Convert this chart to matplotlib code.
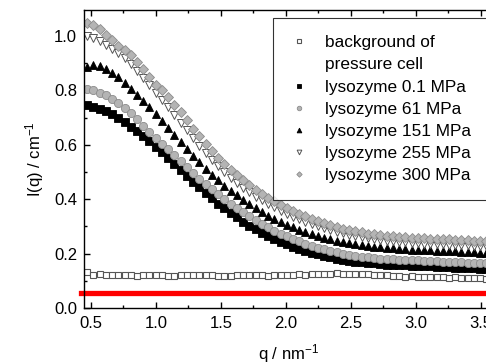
import matplotlib
matplotlib.use("Agg")
import matplotlib.pyplot as plt
from matplotlib.lines import Line2D
from matplotlib.ticker import MultipleLocator

plt.rcParams['font.family'] = ['Liberation Sans', 'DejaVu Sans']
plt.rcParams['mathtext.fontset'] = 'custom'
plt.rcParams['mathtext.rm'] = 'Liberation Sans'
plt.rcParams['mathtext.it'] = 'Liberation Sans:italic'

# scattering vector q / nm^-1
q = [0.470, 0.518, 0.566, 0.614, 0.662, 0.710, 0.758, 0.806, 0.854, 0.902,
     0.950, 0.998, 1.046, 1.094, 1.142, 1.190, 1.238, 1.286, 1.334, 1.382,
     1.430, 1.478, 1.526, 1.574, 1.622, 1.670, 1.718, 1.766, 1.814, 1.862,
     1.910, 1.958, 2.006, 2.054, 2.102, 2.150, 2.198, 2.246, 2.294, 2.342,
     2.390, 2.438, 2.486, 2.534, 2.582, 2.630, 2.678, 2.726, 2.774, 2.822,
     2.870, 2.918, 2.966, 3.014, 3.062, 3.110, 3.158, 3.206, 3.254, 3.302,
     3.350, 3.398, 3.446, 3.494, 3.542]

background = [0.132, 0.122, 0.124, 0.121, 0.120, 0.121, 0.122, 0.120, 0.118, 0.120,
              0.121, 0.122, 0.120, 0.117, 0.119, 0.120, 0.121, 0.122, 0.121, 0.120,
              0.121, 0.119, 0.117, 0.119, 0.121, 0.120, 0.122, 0.121, 0.120, 0.118,
              0.120, 0.121, 0.122, 0.123, 0.124, 0.123, 0.125, 0.126, 0.124, 0.125,
              0.127, 0.126, 0.124, 0.125, 0.126, 0.124, 0.123, 0.122, 0.121, 0.119,
              0.117, 0.115, 0.116, 0.114, 0.115, 0.113, 0.114, 0.113, 0.112, 0.113,
              0.112, 0.111, 0.112, 0.110, 0.106]

lys_0_1 = [0.745, 0.740, 0.733, 0.724, 0.712, 0.698, 0.683, 0.667, 0.650, 0.632,
           0.613, 0.594, 0.574, 0.553, 0.531, 0.509, 0.487, 0.465, 0.444, 0.423,
           0.403, 0.384, 0.366, 0.349, 0.333, 0.318, 0.303, 0.290, 0.277, 0.265,
           0.254, 0.244, 0.235, 0.226, 0.218, 0.211, 0.204, 0.198, 0.192, 0.187,
           0.182, 0.178, 0.174, 0.171, 0.168, 0.166, 0.164, 0.162, 0.160, 0.159,
           0.158, 0.157, 0.156, 0.155, 0.154, 0.153, 0.152, 0.151, 0.150, 0.149,
           0.148, 0.147, 0.146, 0.145, 0.144]

lys_61 = [0.805, 0.800, 0.792, 0.782, 0.770, 0.755, 0.737, 0.716, 0.694, 0.671,
          0.648, 0.626, 0.605, 0.584, 0.563, 0.542, 0.520, 0.498, 0.476, 0.455,
          0.436, 0.418, 0.400, 0.384, 0.368, 0.352, 0.337, 0.323, 0.310, 0.297,
          0.285, 0.274, 0.264, 0.254, 0.245, 0.237, 0.229, 0.222, 0.216, 0.210,
          0.205, 0.200, 0.196, 0.192, 0.189, 0.186, 0.184, 0.182, 0.180, 0.179,
          0.178, 0.177, 0.176, 0.175, 0.174, 0.173, 0.172, 0.171, 0.170, 0.169,
          0.168, 0.167, 0.166, 0.165, 0.164]

lys_151 = [0.888, 0.892, 0.889, 0.880, 0.866, 0.848, 0.828, 0.806, 0.784, 0.762,
           0.738, 0.713, 0.688, 0.662, 0.636, 0.610, 0.584, 0.560, 0.536, 0.513,
           0.491, 0.470, 0.450, 0.432, 0.414, 0.397, 0.382, 0.367, 0.353, 0.340,
           0.328, 0.317, 0.307, 0.297, 0.288, 0.280, 0.272, 0.265, 0.259, 0.253,
           0.248, 0.243, 0.239, 0.235, 0.232, 0.229, 0.226, 0.224, 0.222, 0.220,
           0.218, 0.216, 0.215, 0.214, 0.213, 0.212, 0.211, 0.210, 0.209, 0.208,
           0.207, 0.206, 0.205, 0.204, 0.203]

lys_255 = [1.000, 0.993, 0.982, 0.968, 0.953, 0.937, 0.918, 0.897, 0.873, 0.847,
           0.820, 0.792, 0.765, 0.738, 0.710, 0.682, 0.653, 0.625, 0.597, 0.570,
           0.546, 0.522, 0.500, 0.480, 0.460, 0.442, 0.425, 0.410, 0.396, 0.383,
           0.370, 0.358, 0.347, 0.336, 0.326, 0.316, 0.308, 0.300, 0.293, 0.286,
           0.280, 0.275, 0.270, 0.265, 0.261, 0.257, 0.254, 0.251, 0.248, 0.246,
           0.244, 0.242, 0.240, 0.239, 0.237, 0.236, 0.235, 0.234, 0.233, 0.232,
           0.231, 0.230, 0.229, 0.228, 0.227]

lys_300 = [1.050, 1.040, 1.025, 1.005, 0.985, 0.965, 0.950, 0.930, 0.905, 0.878,
           0.850, 0.822, 0.800, 0.775, 0.748, 0.720, 0.690, 0.660, 0.632, 0.604,
           0.578, 0.553, 0.530, 0.508, 0.488, 0.470, 0.452, 0.435, 0.420, 0.405,
           0.392, 0.380, 0.368, 0.357, 0.347, 0.337, 0.328, 0.320, 0.312, 0.305,
           0.298, 0.292, 0.287, 0.282, 0.278, 0.274, 0.271, 0.268, 0.266, 0.264,
           0.262, 0.260, 0.258, 0.257, 0.256, 0.255, 0.254, 0.253, 0.252, 0.251,
           0.250, 0.249, 0.248, 0.247, 0.246]

red_level = 0.055

fig = plt.figure(figsize=(4.86, 3.64), dpi=100)
ax = fig.add_axes([0.1728, 0.1538, 0.8436, 0.8187])

h_bg, = ax.plot(q, background, ls='none', marker='s', ms=5.0, mfc='white', mec='#555555', mew=0.8)
h01, = ax.plot(q, lys_0_1, ls='none', marker='s', ms=5.2, mfc='black', mec='black', mew=0.6)
h61, = ax.plot(q, lys_61, ls='none', marker='o', ms=5.9, mfc='#b4b4b4', mec='#8c8c8c', mew=0.6)
h151, = ax.plot(q, lys_151, ls='none', marker='^', ms=6.2, mfc='black', mec='black', mew=0.6)
h255, = ax.plot(q, lys_255, ls='none', marker='v', ms=6.2, mfc='white', mec='#555555', mew=0.7)
h300, = ax.plot(q, lys_300, ls='none', marker='D', ms=5.0, mfc='#b4b4b4', mec='#8c8c8c', mew=0.6)

ax.axhline(red_level, xmin=-0.008, xmax=1.0, color='#ff0000', lw=3.8, clip_on=False)

ax.set_xlim(0.446, 3.6)
ax.set_ylim(0.0, 1.096)
ax.xaxis.set_major_locator(MultipleLocator(0.5))
ax.xaxis.set_minor_locator(MultipleLocator(0.25))
ax.yaxis.set_major_locator(MultipleLocator(0.2))
ax.yaxis.set_minor_locator(MultipleLocator(0.1))
ax.tick_params(which='both', direction='in', top=True, right=False, width=1.0, labelsize=12)
ax.tick_params(which='major', length=4.5)
ax.tick_params(which='minor', length=2.5)
ax.tick_params(axis='x', pad=6)
ax.tick_params(axis='y', pad=5)
for s in ax.spines.values():
    s.set_linewidth(1.0)

ax.set_xlabel('q / nm$^{-1}$', fontsize=12, labelpad=8)
ax.set_ylabel('I(q) / cm$^{-1}$', fontsize=12, labelpad=6)

# second line of the background label carries no marker
blank = Line2D([], [], ls='none', marker='none')
handles = [h_bg, blank, h01, h61, h151, h255, h300]
labels = ['background of', 'pressure cell', 'lysozyme 0.1 MPa', 'lysozyme 61 MPa',
          'lysozyme 151 MPa', 'lysozyme 255 MPa', 'lysozyme 300 MPa']
leg = ax.legend(handles, labels, loc='upper left', bbox_to_anchor=(0.562, 0.0, 0.6, 0.9505),
                bbox_transform=fig.transFigure, mode='expand', borderaxespad=0,
                fontsize=12.4, frameon=True, fancybox=False, markerscale=0.55,
                handlelength=1.0, handletextpad=1.0, labelspacing=0.41,
                borderpad=1.0)
leg.get_frame().set_edgecolor('black')
leg.get_frame().set_linewidth(0.8)

fig.savefig('out.png', dpi=100)
